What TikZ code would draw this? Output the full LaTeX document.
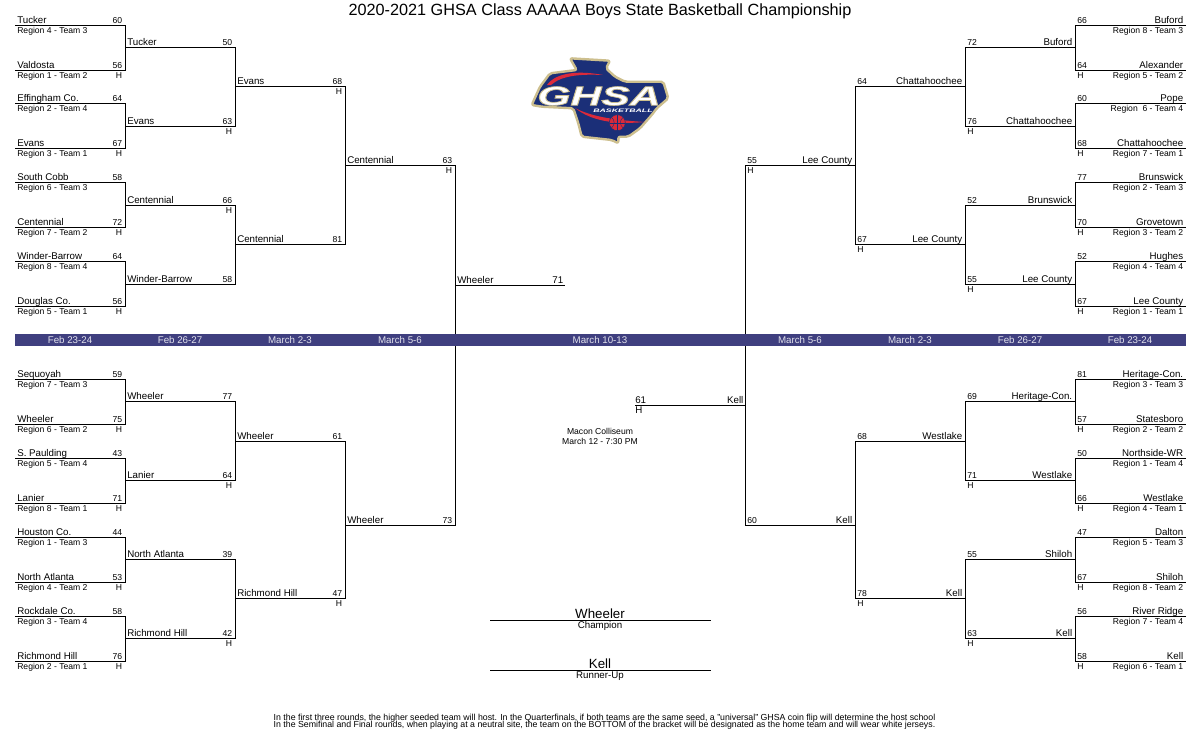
\documentclass[tikz,border=0pt]{standalone}
\usepackage{fontspec}
\setmainfont{Liberation Sans}
\usetikzlibrary{positioning}

\definecolor{bandblue}{HTML}{3F3F7F}
\definecolor{logonavy}{HTML}{1B2F78}
\definecolor{logotan}{HTML}{CDBF8E}
\definecolor{logored}{HTML}{DC2A3A}

\tikzset{
	wire/.style={draw=black,line width=0.75pt},
	small/.style={inner sep=0pt,font=\fontsize{6.45pt}{7pt}\selectfont},
	medium/.style={inner sep=0pt,font=\fontsize{7.3pt}{8pt}\selectfont},
	teamL/.style={medium,anchor=base west,xshift=1.5pt,yshift=1.2pt},
	regionL/.style={small,anchor=base west,xshift=1.5pt,yshift=-6pt},
	scoreL/.style={small,anchor=base east,xshift=-2pt,yshift=1.4pt},
	homeL/.style={small,anchor=base east,xshift=-2pt,yshift=-6pt},
	teamR/.style={medium,anchor=base east,xshift=-1.9pt,yshift=1.2pt},
	regionR/.style={small,anchor=base east,xshift=-1.9pt,yshift=-6pt},
	scoreR/.style={small,anchor=base west,xshift=1.5pt,yshift=1.4pt},
	homeR/.style={small,anchor=base west,xshift=1.5pt,yshift=-6pt},
	dates/.style={medium,text=white!85!bandblue,anchor=base},
	venue/.style={small,anchor=base},
	caption/.style={medium,anchor=base},
	note/.style={inner sep=0pt,anchor=base,font=\fontsize{6.58pt}{7pt}\selectfont},
	result/.style={inner sep=0pt,anchor=base,font=\fontsize{10pt}{11pt}\selectfont},
}

\begin{document}
\begin{tikzpicture}[x=0.75pt,y=0.75pt,node distance=82.5pt]
	\useasboundingbox (0,0) rectangle (1200,-750);

	\node[inner sep=0pt,anchor=base,font=\fontsize{12.18pt}{13pt}\selectfont] (title) at (600,-15) {2020-2021 GHSA Class AAAAA Boys State Basketball Championship};

	% left side, first round
	\coordinate (l1a) at (15,-25); \coordinate[right=of l1a] (l1ae);
	\node[teamL] (l1at) at (l1a) {Tucker}; \node[regionL] (l1ar) at (l1a) {Region 4 - Team 3}; \node[scoreL] (l1as) at (l1ae) {60};
	\coordinate (l1b) at (15,-70); \coordinate[right=of l1b] (l1be);
	\node[teamL] (l1bt) at (l1b) {Valdosta}; \node[regionL] (l1br) at (l1b) {Region 1 - Team 2}; \node[scoreL] (l1bs) at (l1be) {56}; \node[homeL] (l1bh) at (l1be) {H};
	\coordinate (l1c) at (15,-103); \coordinate[right=of l1c] (l1ce);
	\node[teamL] (l1ct) at (l1c) {Effingham Co.}; \node[regionL] (l1cr) at (l1c) {Region 2 - Team 4}; \node[scoreL] (l1cs) at (l1ce) {64};
	\coordinate (l1d) at (15,-148); \coordinate[right=of l1d] (l1de);
	\node[teamL] (l1dt) at (l1d) {Evans}; \node[regionL] (l1dr) at (l1d) {Region 3 - Team 1}; \node[scoreL] (l1ds) at (l1de) {67}; \node[homeL] (l1dh) at (l1de) {H};
	\coordinate (l1e) at (15,-182); \coordinate[right=of l1e] (l1ee);
	\node[teamL] (l1et) at (l1e) {South Cobb}; \node[regionL] (l1er) at (l1e) {Region 6 - Team 3}; \node[scoreL] (l1es) at (l1ee) {58};
	\coordinate (l1f) at (15,-227); \coordinate[right=of l1f] (l1fe);
	\node[teamL] (l1ft) at (l1f) {Centennial}; \node[regionL] (l1fr) at (l1f) {Region 7 - Team 2}; \node[scoreL] (l1fs) at (l1fe) {72}; \node[homeL] (l1fh) at (l1fe) {H};
	\coordinate (l1g) at (15,-261); \coordinate[right=of l1g] (l1ge);
	\node[teamL] (l1gt) at (l1g) {Winder-Barrow}; \node[regionL] (l1gr) at (l1g) {Region 8 - Team 4}; \node[scoreL] (l1gs) at (l1ge) {64};
	\coordinate (l1h) at (15,-306); \coordinate[right=of l1h] (l1he);
	\node[teamL] (l1ht) at (l1h) {Douglas Co.}; \node[regionL] (l1hr) at (l1h) {Region 5 - Team 1}; \node[scoreL] (l1hs) at (l1he) {56}; \node[homeL] (l1hh) at (l1he) {H};

	\coordinate (l1i) at (15,-379); \coordinate[right=of l1i] (l1ie);
	\node[teamL] (l1it) at (l1i) {Sequoyah}; \node[regionL] (l1ir) at (l1i) {Region 7 - Team 3}; \node[scoreL] (l1is) at (l1ie) {59};
	\coordinate (l1j) at (15,-424); \coordinate[right=of l1j] (l1je);
	\node[teamL] (l1jt) at (l1j) {Wheeler}; \node[regionL] (l1jr) at (l1j) {Region 6 - Team 2}; \node[scoreL] (l1js) at (l1je) {75}; \node[homeL] (l1jh) at (l1je) {H};
	\coordinate (l1k) at (15,-458); \coordinate[right=of l1k] (l1ke);
	\node[teamL] (l1kt) at (l1k) {S. Paulding}; \node[regionL] (l1kr) at (l1k) {Region 5 - Team 4}; \node[scoreL] (l1ks) at (l1ke) {43};
	\coordinate (l1l) at (15,-503); \coordinate[right=of l1l] (l1le);
	\node[teamL] (l1lt) at (l1l) {Lanier}; \node[regionL] (l1lr) at (l1l) {Region 8 - Team 1}; \node[scoreL] (l1ls) at (l1le) {71}; \node[homeL] (l1lh) at (l1le) {H};
	\coordinate (l1m) at (15,-537); \coordinate[right=of l1m] (l1me);
	\node[teamL] (l1mt) at (l1m) {Houston Co.}; \node[regionL] (l1mr) at (l1m) {Region 1 - Team 3}; \node[scoreL] (l1ms) at (l1me) {44};
	\coordinate (l1n) at (15,-582); \coordinate[right=of l1n] (l1ne);
	\node[teamL] (l1nt) at (l1n) {North Atlanta}; \node[regionL] (l1nr) at (l1n) {Region 4 - Team 2}; \node[scoreL] (l1ns) at (l1ne) {53}; \node[homeL] (l1nh) at (l1ne) {H};
	\coordinate (l1o) at (15,-616); \coordinate[right=of l1o] (l1oe);
	\node[teamL] (l1ot) at (l1o) {Rockdale Co.}; \node[regionL] (l1or) at (l1o) {Region 3 - Team 4}; \node[scoreL] (l1os) at (l1oe) {58};
	\coordinate (l1p) at (15,-661); \coordinate[right=of l1p] (l1pe);
	\node[teamL] (l1pt) at (l1p) {Richmond Hill}; \node[regionL] (l1pr) at (l1p) {Region 2 - Team 1}; \node[scoreL] (l1ps) at (l1pe) {76}; \node[homeL] (l1ph) at (l1pe) {H};

	% left side, later rounds
	\coordinate (l2a) at (125,-47); \coordinate[right=of l2a] (l2ae);
	\node[teamL] (l2at) at (l2a) {Tucker}; \node[scoreL] (l2as) at (l2ae) {50};
	\coordinate (l2b) at (125,-126); \coordinate[right=of l2b] (l2be);
	\node[teamL] (l2bt) at (l2b) {Evans}; \node[scoreL] (l2bs) at (l2be) {63}; \node[homeL] (l2bh) at (l2be) {H};
	\coordinate (l2c) at (125,-205); \coordinate[right=of l2c] (l2ce);
	\node[teamL] (l2ct) at (l2c) {Centennial}; \node[scoreL] (l2cs) at (l2ce) {66}; \node[homeL] (l2ch) at (l2ce) {H};
	\coordinate (l2d) at (125,-284); \coordinate[right=of l2d] (l2de);
	\node[teamL] (l2dt) at (l2d) {Winder-Barrow}; \node[scoreL] (l2ds) at (l2de) {58};
	\coordinate (l2e) at (125,-401); \coordinate[right=of l2e] (l2ee);
	\node[teamL] (l2et) at (l2e) {Wheeler}; \node[scoreL] (l2es) at (l2ee) {77};
	\coordinate (l2f) at (125,-480); \coordinate[right=of l2f] (l2fe);
	\node[teamL] (l2ft) at (l2f) {Lanier}; \node[scoreL] (l2fs) at (l2fe) {64}; \node[homeL] (l2fh) at (l2fe) {H};
	\coordinate (l2g) at (125,-559); \coordinate[right=of l2g] (l2ge);
	\node[teamL] (l2gt) at (l2g) {North Atlanta}; \node[scoreL] (l2gs) at (l2ge) {39};
	\coordinate (l2h) at (125,-638); \coordinate[right=of l2h] (l2he);
	\node[teamL] (l2ht) at (l2h) {Richmond Hill}; \node[scoreL] (l2hs) at (l2he) {42}; \node[homeL] (l2hh) at (l2he) {H};

	\coordinate (l3a) at (235,-86); \coordinate[right=of l3a] (l3ae);
	\node[teamL] (l3at) at (l3a) {Evans}; \node[scoreL] (l3as) at (l3ae) {68}; \node[homeL] (l3ah) at (l3ae) {H};
	\coordinate (l3b) at (235,-244); \coordinate[right=of l3b] (l3be);
	\node[teamL] (l3bt) at (l3b) {Centennial}; \node[scoreL] (l3bs) at (l3be) {81};
	\coordinate (l3c) at (235,-441); \coordinate[right=of l3c] (l3ce);
	\node[teamL] (l3ct) at (l3c) {Wheeler}; \node[scoreL] (l3cs) at (l3ce) {61};
	\coordinate (l3d) at (235,-598); \coordinate[right=of l3d] (l3de);
	\node[teamL] (l3dt) at (l3d) {Richmond Hill}; \node[scoreL] (l3ds) at (l3de) {47}; \node[homeL] (l3dh) at (l3de) {H};

	\coordinate (l4a) at (345,-165); \coordinate[right=of l4a] (l4ae);
	\node[teamL] (l4at) at (l4a) {Centennial}; \node[scoreL] (l4as) at (l4ae) {63}; \node[homeL] (l4ah) at (l4ae) {H};
	\coordinate (l4b) at (345,-525); \coordinate[right=of l4b] (l4be);
	\node[teamL] (l4bt) at (l4b) {Wheeler}; \node[scoreL] (l4bs) at (l4be) {73};

	\coordinate (l5a) at (455,-285); \coordinate[right=of l5a] (l5ae);
	\node[teamL] (l5at) at (l5a) {Wheeler}; \node[scoreL,medium,xshift=0.9pt] (l5as) at (l5ae) {71};

	% right side, first round
	\coordinate (r1a) at (1186,-25); \coordinate (r1ae) at (1075,-25);
	\node[teamR] (r1at) at (r1a) {Buford}; \node[regionR] (r1ar) at (r1a) {Region 8 - Team 3}; \node[scoreR] (r1as) at (r1ae) {66};
	\coordinate (r1b) at (1186,-70); \coordinate (r1be) at (1075,-70);
	\node[teamR] (r1bt) at (r1b) {Alexander}; \node[regionR] (r1br) at (r1b) {Region 5 - Team 2}; \node[scoreR] (r1bs) at (r1be) {64}; \node[homeR] (r1bh) at (r1be) {H};
	\coordinate (r1c) at (1186,-103); \coordinate (r1ce) at (1075,-103);
	\node[teamR] (r1ct) at (r1c) {Pope}; \node[regionR] (r1cr) at (r1c) {Region~~6 - Team 4}; \node[scoreR] (r1cs) at (r1ce) {60};
	\coordinate (r1d) at (1186,-148); \coordinate (r1de) at (1075,-148);
	\node[teamR] (r1dt) at (r1d) {Chattahoochee}; \node[regionR] (r1dr) at (r1d) {Region 7 - Team 1}; \node[scoreR] (r1ds) at (r1de) {68}; \node[homeR] (r1dh) at (r1de) {H};
	\coordinate (r1e) at (1186,-182); \coordinate (r1ee) at (1075,-182);
	\node[teamR] (r1et) at (r1e) {Brunswick}; \node[regionR] (r1er) at (r1e) {Region 2 - Team 3}; \node[scoreR] (r1es) at (r1ee) {77};
	\coordinate (r1f) at (1186,-227); \coordinate (r1fe) at (1075,-227);
	\node[teamR] (r1ft) at (r1f) {Grovetown}; \node[regionR] (r1fr) at (r1f) {Region 3 - Team 2}; \node[scoreR] (r1fs) at (r1fe) {70}; \node[homeR] (r1fh) at (r1fe) {H};
	\coordinate (r1g) at (1186,-261); \coordinate (r1ge) at (1075,-261);
	\node[teamR] (r1gt) at (r1g) {Hughes}; \node[regionR] (r1gr) at (r1g) {Region 4 - Team 4}; \node[scoreR] (r1gs) at (r1ge) {52};
	\coordinate (r1h) at (1186,-306); \coordinate (r1he) at (1075,-306);
	\node[teamR] (r1ht) at (r1h) {Lee County}; \node[regionR] (r1hr) at (r1h) {Region 1 - Team 1}; \node[scoreR] (r1hs) at (r1he) {67}; \node[homeR] (r1hh) at (r1he) {H};

	\coordinate (r1i) at (1186,-379); \coordinate (r1ie) at (1075,-379);
	\node[teamR] (r1it) at (r1i) {Heritage-Con.}; \node[regionR] (r1ir) at (r1i) {Region 3 - Team 3}; \node[scoreR] (r1is) at (r1ie) {81};
	\coordinate (r1j) at (1186,-424); \coordinate (r1je) at (1075,-424);
	\node[teamR] (r1jt) at (r1j) {Statesboro}; \node[regionR] (r1jr) at (r1j) {Region 2 - Team 2}; \node[scoreR] (r1js) at (r1je) {57}; \node[homeR] (r1jh) at (r1je) {H};
	\coordinate (r1k) at (1186,-458); \coordinate (r1ke) at (1075,-458);
	\node[teamR] (r1kt) at (r1k) {Northside-WR}; \node[regionR] (r1kr) at (r1k) {Region 1 - Team 4}; \node[scoreR] (r1ks) at (r1ke) {50};
	\coordinate (r1l) at (1186,-503); \coordinate (r1le) at (1075,-503);
	\node[teamR] (r1lt) at (r1l) {Westlake}; \node[regionR] (r1lr) at (r1l) {Region 4 - Team 1}; \node[scoreR] (r1ls) at (r1le) {66}; \node[homeR] (r1lh) at (r1le) {H};
	\coordinate (r1m) at (1186,-537); \coordinate (r1me) at (1075,-537);
	\node[teamR] (r1mt) at (r1m) {Dalton}; \node[regionR] (r1mr) at (r1m) {Region 5 - Team 3}; \node[scoreR] (r1ms) at (r1me) {47};
	\coordinate (r1n) at (1186,-582); \coordinate (r1ne) at (1075,-582);
	\node[teamR] (r1nt) at (r1n) {Shiloh}; \node[regionR] (r1nr) at (r1n) {Region 8 - Team 2}; \node[scoreR] (r1ns) at (r1ne) {67}; \node[homeR] (r1nh) at (r1ne) {H};
	\coordinate (r1o) at (1186,-616); \coordinate (r1oe) at (1075,-616);
	\node[teamR] (r1ot) at (r1o) {River Ridge}; \node[regionR] (r1or) at (r1o) {Region 7 - Team 4}; \node[scoreR] (r1os) at (r1oe) {56};
	\coordinate (r1p) at (1186,-661); \coordinate (r1pe) at (1075,-661);
	\node[teamR] (r1pt) at (r1p) {Kell}; \node[regionR] (r1pr) at (r1p) {Region 6 - Team 1}; \node[scoreR] (r1ps) at (r1pe) {58}; \node[homeR] (r1ph) at (r1pe) {H};

	% right side, later rounds
	\coordinate (r2a) at (1075,-47); \coordinate[left=of r2a] (r2ae);
	\node[teamR] (r2at) at (r2a) {Buford}; \node[scoreR] (r2as) at (r2ae) {72};
	\coordinate (r2b) at (1075,-126); \coordinate[left=of r2b] (r2be);
	\node[teamR] (r2bt) at (r2b) {Chattahoochee}; \node[scoreR] (r2bs) at (r2be) {76}; \node[homeR] (r2bh) at (r2be) {H};
	\coordinate (r2c) at (1075,-205); \coordinate[left=of r2c] (r2ce);
	\node[teamR] (r2ct) at (r2c) {Brunswick}; \node[scoreR] (r2cs) at (r2ce) {52};
	\coordinate (r2d) at (1075,-284); \coordinate[left=of r2d] (r2de);
	\node[teamR] (r2dt) at (r2d) {Lee County}; \node[scoreR] (r2ds) at (r2de) {55}; \node[homeR] (r2dh) at (r2de) {H};
	\coordinate (r2e) at (1075,-401); \coordinate[left=of r2e] (r2ee);
	\node[teamR] (r2et) at (r2e) {Heritage-Con.}; \node[scoreR] (r2es) at (r2ee) {69};
	\coordinate (r2f) at (1075,-480); \coordinate[left=of r2f] (r2fe);
	\node[teamR] (r2ft) at (r2f) {Westlake}; \node[scoreR] (r2fs) at (r2fe) {71}; \node[homeR] (r2fh) at (r2fe) {H};
	\coordinate (r2g) at (1075,-559); \coordinate[left=of r2g] (r2ge);
	\node[teamR] (r2gt) at (r2g) {Shiloh}; \node[scoreR] (r2gs) at (r2ge) {55};
	\coordinate (r2h) at (1075,-638); \coordinate[left=of r2h] (r2he);
	\node[teamR] (r2ht) at (r2h) {Kell}; \node[scoreR] (r2hs) at (r2he) {63}; \node[homeR] (r2hh) at (r2he) {H};

	\coordinate (r3a) at (965,-86); \coordinate[left=of r3a] (r3ae);
	\node[teamR] (r3at) at (r3a) {Chattahoochee}; \node[scoreR] (r3as) at (r3ae) {64};
	\coordinate (r3b) at (965,-244); \coordinate[left=of r3b] (r3be);
	\node[teamR] (r3bt) at (r3b) {Lee County}; \node[scoreR] (r3bs) at (r3be) {67}; \node[homeR] (r3bh) at (r3be) {H};
	\coordinate (r3c) at (965,-441); \coordinate[left=of r3c] (r3ce);
	\node[teamR] (r3ct) at (r3c) {Westlake}; \node[scoreR] (r3cs) at (r3ce) {68};
	\coordinate (r3d) at (965,-598); \coordinate[left=of r3d] (r3de);
	\node[teamR] (r3dt) at (r3d) {Kell}; \node[scoreR] (r3ds) at (r3de) {78}; \node[homeR] (r3dh) at (r3de) {H};

	\coordinate (r4a) at (855,-165); \coordinate[left=of r4a] (r4ae);
	\node[teamR] (r4at) at (r4a) {Lee County}; \node[scoreR] (r4as) at (r4ae) {55}; \node[homeR] (r4ah) at (r4ae) {H};
	\coordinate (r4b) at (855,-525); \coordinate[left=of r4b] (r4be);
	\node[teamR] (r4bt) at (r4b) {Kell}; \node[scoreR] (r4bs) at (r4be) {60};

	\coordinate (r5a) at (745,-405); \coordinate[left=of r5a] (r5ae);
	\node[teamR,xshift=0.9pt] (r5at) at (r5a) {Kell}; \node[scoreR,medium,xshift=-1.5pt] (r5as) at (r5ae) {61}; \node[homeR,medium,xshift=-1.5pt] (r5ah) at (r5ae) {H};

	% brackets
	\draw[wire] (l1a) -- (l1ae) -- (l1be) -- (l1b);
	\draw[wire] (l1c) -- (l1ce) -- (l1de) -- (l1d);
	\draw[wire] (l1e) -- (l1ee) -- (l1fe) -- (l1f);
	\draw[wire] (l1g) -- (l1ge) -- (l1he) -- (l1h);
	\draw[wire] (l1i) -- (l1ie) -- (l1je) -- (l1j);
	\draw[wire] (l1k) -- (l1ke) -- (l1le) -- (l1l);
	\draw[wire] (l1m) -- (l1me) -- (l1ne) -- (l1n);
	\draw[wire] (l1o) -- (l1oe) -- (l1pe) -- (l1p);
	\draw[wire] (l2a) -- (l2ae) -- (l2be) -- (l2b);
	\draw[wire] (l2c) -- (l2ce) -- (l2de) -- (l2d);
	\draw[wire] (l2e) -- (l2ee) -- (l2fe) -- (l2f);
	\draw[wire] (l2g) -- (l2ge) -- (l2he) -- (l2h);
	\draw[wire] (l3a) -- (l3ae) -- (l3be) -- (l3b);
	\draw[wire] (l3c) -- (l3ce) -- (l3de) -- (l3d);
	\draw[wire] (l4a) -- (l4ae) -- (l4be) -- (l4b);
	\draw[wire] (l5a) -- (l5ae);
	\draw[wire] (r1a) -- (r1ae) -- (r1be) -- (r1b);
	\draw[wire] (r1c) -- (r1ce) -- (r1de) -- (r1d);
	\draw[wire] (r1e) -- (r1ee) -- (r1fe) -- (r1f);
	\draw[wire] (r1g) -- (r1ge) -- (r1he) -- (r1h);
	\draw[wire] (r1i) -- (r1ie) -- (r1je) -- (r1j);
	\draw[wire] (r1k) -- (r1ke) -- (r1le) -- (r1l);
	\draw[wire] (r1m) -- (r1me) -- (r1ne) -- (r1n);
	\draw[wire] (r1o) -- (r1oe) -- (r1pe) -- (r1p);
	\draw[wire] (r2a) -- (r2ae) -- (r2be) -- (r2b);
	\draw[wire] (r2c) -- (r2ce) -- (r2de) -- (r2d);
	\draw[wire] (r2e) -- (r2ee) -- (r2fe) -- (r2f);
	\draw[wire] (r2g) -- (r2ge) -- (r2he) -- (r2h);
	\draw[wire] (r3a) -- (r3ae) -- (r3be) -- (r3b);
	\draw[wire] (r3c) -- (r3ce) -- (r3de) -- (r3d);
	\draw[wire] (r4a) -- (r4ae) -- (r4be) -- (r4b);
	\draw[wire] (r5a) -- (r5ae);

	% date band
	\node[fill=bandblue,inner sep=0pt,minimum width=878.25pt,minimum height=9pt] (band) at (600.5,-340) {};
	\node[dates] (d1) at (70,-343) {Feb 23-24};
	\node[dates] (d2) at (180,-343) {Feb 26-27};
	\node[dates] (d3) at (290,-343) {March 2-3};
	\node[dates] (d4) at (400,-343) {March 5-6};
	\node[dates] (d5) at (600,-343) {March 10-13};
	\node[dates] (d6) at (800,-343) {March 5-6};
	\node[dates] (d7) at (910,-343) {March 2-3};
	\node[dates] (d8) at (1020,-343) {Feb 26-27};
	\node[dates] (d9) at (1130,-343) {Feb 23-24};

	% centre
	\node[venue] (site) at (600,-434) {Macon Colliseum};
	\node[venue] (tipoff) at (600,-444) {March 12 - 7:30 PM};

	\coordinate (cha) at (490,-620); \coordinate (chb) at (711,-620);
	\draw[wire] (cha) -- (chb);
	\node[result] (champ) at (600,-618) {Wheeler};
	\node[caption] (champlbl) at (600,-628) {Champion};
	\coordinate (rua) at (490,-670); \coordinate (rub) at (711,-670);
	\draw[wire] (rua) -- (rub);
	\node[result] (runner) at (600,-668) {Kell};
	\node[caption] (runnerlbl) at (600,-678) {Runner-Up};

	\node[note] (note1) at (604.5,-720) {In the first three rounds, the higher seeded team will host. In the Quarterfinals, if both teams are the same seed, a "universal" GHSA coin flip will determine the host school};
	\node[note] (note2) at (604.5,-727) {In the Semifinal and Final rounds, when playing at a neutral site, the team on the BOTTOM of the bracket will be designated as the home team and will wear white jerseys.};

	% logo
	\draw[fill=logonavy,draw=logotan,line width=1.8pt,line join=round,rounded corners=1.5pt] (570,-58.3) -- (610,-60.7) -- (606,-68.3) -- (615,-76.7) -- (625,-81.7) -- (663.3,-81.7) -- (668.3,-98.3) -- (656.7,-108.3) -- (651.7,-115) -- (640,-128.3) -- (628.3,-136.7) -- (618.3,-136.7) -- (618.3,-143.3) -- (611.7,-140) -- (581.7,-136.7) -- (578.3,-123.3) -- (573.3,-108.3) -- (541.7,-106.7) -- (531.7,-105) -- (540,-86.7) -- (550,-73.3) -- (576.7,-70) -- cycle;
	\fill[logored] (547,-85) .. controls (556,-72) and (580,-70.5) .. (603,-75) .. controls (582,-74) and (562,-75) .. (551,-85) -- cycle;
	\fill[logored] (575,-108) .. controls (590,-120) and (612,-125) .. (645,-122) .. controls (612,-120) and (590,-116) .. (575,-108) -- cycle;
	\node[inner sep=0pt,text=white,xscale=1.6,transform shape,font=\fontsize{20pt}{20pt}\selectfont\bfseries\itshape] (ghsa) at (599,-96) {\special{pdf:code q 2 Tr 0.80 0.75 0.56 RG 0.5 w}GHSA\special{pdf:code Q}};
	\node[inner sep=0pt,text=white,xscale=1.75,transform shape,font=\fontsize{3.75pt}{4pt}\selectfont\bfseries\itshape] (bball) at (623,-111) {BASKETBALL};
	\draw[fill=logored,draw=logonavy,line width=0.4pt] (617.3,-122.7) circle (8);
	\draw[logonavy,line width=0.3pt] (609.5,-122.7) -- (625.1,-122.7) (617.3,-114.8) -- (617.3,-130.6);
	\draw[logonavy,line width=0.3pt] (611.5,-117.3) .. controls (615,-120) and (615,-125) .. (611.5,-128);
	\draw[logonavy,line width=0.3pt] (623.1,-117.3) .. controls (619.5,-120) and (619.5,-125) .. (623.1,-128);
\end{tikzpicture}
\end{document}
